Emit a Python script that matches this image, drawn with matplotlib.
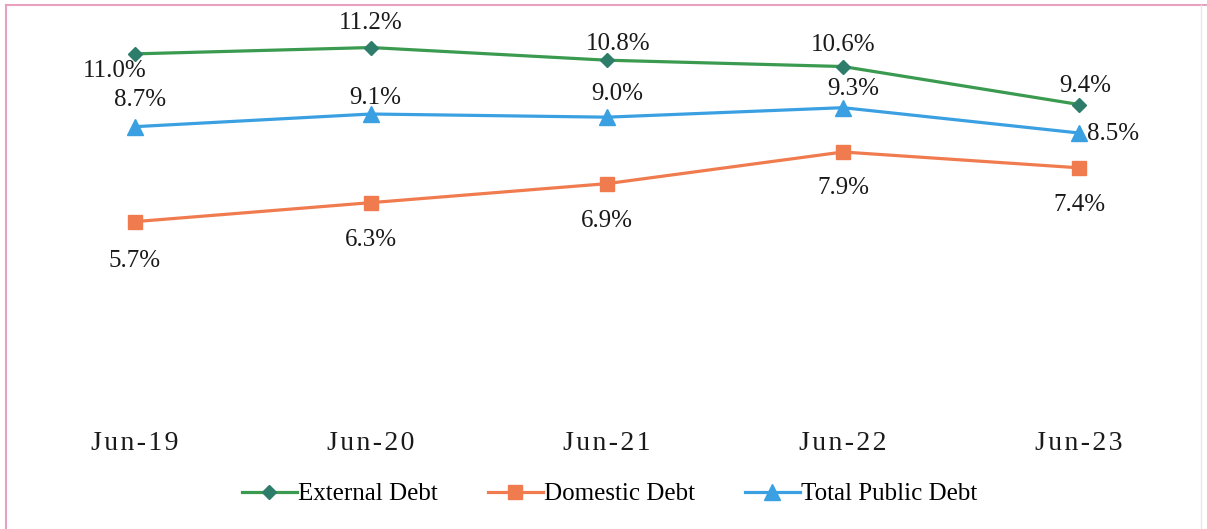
import matplotlib.pyplot as plt

# data ........................................................................
periods = ['Jun-19', 'Jun-20', 'Jun-21', 'Jun-22', 'Jun-23']
external = [11.0, 11.2, 10.8, 10.6, 9.4]
domestic = [5.7, 6.3, 6.9, 7.9, 7.4]
total = [8.7, 9.1, 9.0, 9.3, 8.5]

# label offsets in pixels (dx, dy), up is positive
ext_off = [(-20, -17), (0, 25), (11, 16), (0, 22), (6, 19)]
dom_off = [(0, -39), (0, -37), (0, -37), (0, -36), (0, -37)]
tot_off = [(5, 27), (4, 16), (10, 23), (10, 19), (34, -1)]


def main():
    plt.rcParams['font.family'] = ['Liberation Serif', 'DejaVu Serif']
    fig = plt.figure(figsize=(12.07, 5.29), dpi=100)
    ax = fig.add_axes([0.0141, 0.240, 0.9776, 0.718])

    x = list(range(len(periods)))
    ax.plot(x, external, color='#3a9a4f', lw=2.3, marker='D', ms=7,
            mfc='#2e7d6a', mec='#2e7d6a', label='External Debt', zorder=3)
    ax.plot(x, domestic, color='#f07b4f', lw=2.3, marker='s', ms=10,
            mfc='#f07b4f', mec='#f07b4f', label='Domestic Debt', zorder=3)
    ax.plot(x, total, color='#3aa0e2', lw=2.3, marker='^', ms=11,
            mfc='#3aa0e2', mec='#3aa0e2', label='Total Public Debt', zorder=3)

    for series, offs in ((external, ext_off), (domestic, dom_off), (total, tot_off)):
        for xi, v, (dx, dy) in zip(x, series, offs):
            ax.annotate(f'{v:.1f}%', (xi, v), xytext=(dx, dy),
                        textcoords='offset pixels', ha='center', va='center',
                        fontsize=18, color='#1a1a1a')

    ax.set_xlim(-0.5, 4.5)
    ax.set_ylim(0, 12)
    ax.set_xticks(x)
    # the scanned labels are letter-spaced
    ax.set_xticklabels(['\u200a'.join(p) for p in periods], fontsize=20,
                       color='#1a1a1a')
    ax.tick_params(axis='x', length=0, pad=21)
    ax.set_yticks([])
    for s in ax.spines.values():
        s.set_visible(False)

    fig.legend(loc='center', bbox_to_anchor=(0.505, 0.066), ncol=3,
               frameon=False, fontsize=18, handlelength=2.2,
               handletextpad=0.05, columnspacing=2.0)

    # scanned page border
    fig.add_artist(plt.Line2D([0.005, 0.005], [0.0, 0.99], color='#e8a0bf', lw=1.5))
    fig.add_artist(plt.Line2D([0.005, 1.0], [0.99, 0.99], color='#e8a0bf', lw=1.5))
    fig.add_artist(plt.Line2D([0.995, 0.995], [0.0, 0.99], color='#e6e6e6', lw=1))

    fig.savefig('out.png', dpi=100)


if __name__ == '__main__':
    main()
